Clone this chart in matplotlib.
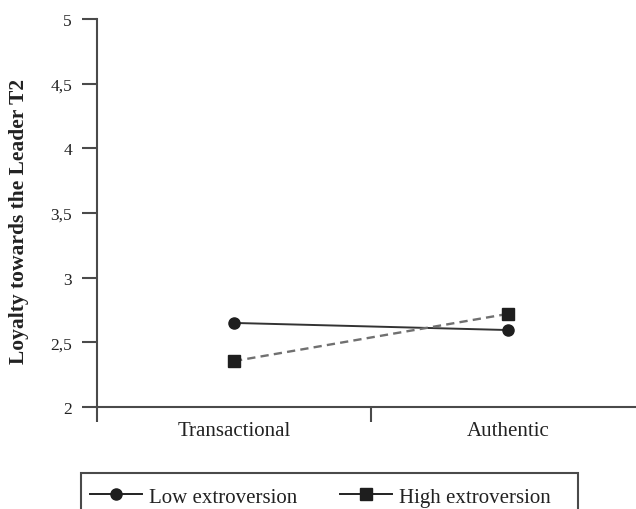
import matplotlib
matplotlib.use("Agg")
import matplotlib.pyplot as plt
from matplotlib.lines import Line2D
from matplotlib.patches import Rectangle

categories = ["Transactional", "Authentic"]
low_extroversion = [2.65, 2.595]
high_extroversion = [2.355, 2.72]
y_ticks = [2, 2.5, 3, 3.5, 4, 4.5, 5]
y_tick_labels = ["2", "2,5", "3", "3,5", "4", "4,5", "5"]
y_label = "Loyalty towards the Leader T2"
legend_labels = ["Low extroversion", "High extroversion"]

plt.rcParams['font.family'] = ['Liberation Serif', 'DejaVu Serif']

W, H = 636, 510
fig = plt.figure(figsize=(W / 100, H / 100), dpi=100)
ax = fig.add_axes([97/W, 1 - 408/H, 548/W, (408 - 20)/H])

xpos = [0.5, 1.5]
ax.plot(xpos, low_extroversion, color="#333333", lw=1.4, marker="o", ms=8,
        mfc="#1e1e1e", mec="#1e1e1e", zorder=3, clip_on=False)
ax.plot(xpos, high_extroversion, color="#707070", lw=1.7, ls=(0, (3.5, 2.2)),
        marker="s", ms=8, mfc="#1e1e1e", mec="#1e1e1e", zorder=3, clip_on=False)

ax.set_xlim(0, 2.0)
ax.set_ylim(2, 5)
ax.set_yticks(y_ticks)
ax.set_yticklabels(y_tick_labels, fontsize=12.5, color="#222222")
ax.set_xticks([0, 1])
ax.set_xticklabels(["", ""])
ax.set_xticks(xpos, minor=True)
ax.set_xticklabels(categories, minor=True, fontsize=15, color="#222222")
ax.tick_params(axis="x", which="minor", length=0, pad=10)
ax.tick_params(axis="both", which="major", length=11, width=1.5, color="#4a4a4a", direction="out")
ax.tick_params(axis="y", pad=7)

for s in ["top", "right"]:
    ax.spines[s].set_visible(False)
for s in ["left", "bottom"]:
    ax.spines[s].set_linewidth(1.5)
    ax.spines[s].set_color("#4a4a4a")

ax.set_ylabel(y_label, fontsize=15.5, fontweight="bold", color="#222222")
ax.yaxis.set_label_coords((29 - 97) / 548, (408 - 221) / 388)

# legend box (cut off by the bottom edge of the figure, as in the reference)
fig.patches.append(Rectangle((81/W, 1 - 520/H), (578 - 81)/W, (520 - 474)/H,
                             transform=fig.transFigure, fill=False,
                             edgecolor="#4a4a4a", linewidth=1.5))

handles = [
    Line2D([], [], color="#222222", lw=1.4, marker="o", ms=8, mfc="#1e1e1e", mec="#1e1e1e"),
    Line2D([], [], color="#222222", lw=1.4, marker="s", ms=8, mfc="#1e1e1e", mec="#1e1e1e"),
]
leg = fig.legend(handles, legend_labels, loc="center left",
                 bbox_to_anchor=(81/W, 1 - 498/H), ncol=2, fontsize=15,
                 frameon=False, handlelength=2.5, columnspacing=2.05,
                 handletextpad=0.33, borderpad=0.43, borderaxespad=0)
for t in leg.get_texts():
    t.set_color("#222222")

fig.savefig("out.png", dpi=100)
